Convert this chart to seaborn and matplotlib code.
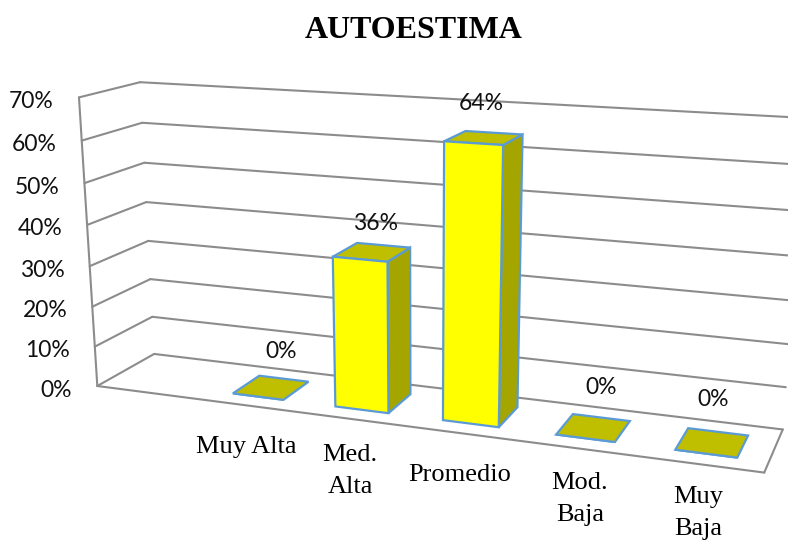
import numpy as np
import matplotlib
matplotlib.use("Agg")
import matplotlib.pyplot as plt
from matplotlib.transforms import Transform, Affine2D
from matplotlib.patches import Polygon
import seaborn as sns

# ---- data ----
categories = ["Muy Alta", "Med.\nAlta", "Promedio", "Mod.\nBaja", "Muy\nBaja"]
values = [0, 36, 64, 0, 0]
value_labels = ["0%", "36%", "64%", "0%", "0%"]
axis_ticks = [0, 10, 20, 30, 40, 50, 60, 70]
title = "AUTOESTIMA"

# ---- layout (pixels of the 788x541 picture) ----
W, H = 788, 541
X_L, X_R = -1.5, 4.5
Z0, Z1 = 0.24, 0.76
BAR_W = 0.5
VMAX = 70
# frame calibration: (x, value, depth) -> pixel
CALIB = [
    ((X_L, 0, 0), (97.5, 386)), ((X_L, VMAX, 0), (79, 97)),
    ((X_L, VMAX, 1), (140, 82.5)), ((X_L, 0, 1), (154, 354)),
    ((X_R, 0, 1), (783, 429)), ((X_R, 0, 0), (764, 473)),
    ((X_R, VMAX, 1), (805, 118)),
]
VALUE_LABEL_XY = [(281, 351), (376, 223), (481, 104), (601, 387), (713, 400)]
CAT_LABEL_XY = [(246, 447), (350, 471), (460, 475), (580, 499), (698, 513)]

# solve the projective camera
A, b = [], []
for (x, v, z), (u, w) in CALIB:
    A.append([x, v, z, 1, 0, 0, 0, 0, -u * x, -u * v, -u * z]); b.append(u)
    A.append([0, 0, 0, 0, x, v, z, 1, -w * x, -w * v, -w * z]); b.append(w)
P = np.append(np.linalg.lstsq(np.array(A, float), np.array(b, float), rcond=None)[0], 1).reshape(3, 4)


def project(x, v, z):
    h = P @ np.array([x, v, z, 1.0])
    return h[0] / h[2], h[1] / h[2]


PX = Affine2D().scale(1, -1).translate(0, H)


class FacePlane(Transform):
    """Category/value scale of the chart, seen in perspective at a fixed depth."""
    input_dims = output_dims = 2
    is_affine = False
    has_inverse = False

    def __init__(self, z):
        super().__init__()
        self.z = z

    def transform_non_affine(self, values):
        values = np.asarray(values, float)
        h = P @ np.c_[values[:, 0], values[:, 1], np.full(len(values), self.z), np.ones(len(values))].T
        return PX.transform((h[:2] / h[2]).T)


sns.set_theme(style="white")
plt.rcParams["font.family"] = ["Lato", "DejaVu Sans"]
SERIF = ["Liberation Serif", "DejaVu Serif"]

fig = plt.figure(figsize=(W / 100, H / 100), dpi=100, facecolor="white")
ax = fig.add_axes([0, 0, 1, 1])

GOLD_TOP, GOLD_SIDE, FRONT, EDGE, GRID = "#BFBF00", "#A5A500", "#FFFF00", "#5B9BD5", "#8C8C8C"
EDGE_LW = 1.6

sns.barplot(x=list(range(len(values))), y=values, color=FRONT, saturation=1, width=BAR_W,
            edgecolor=EDGE, linewidth=EDGE_LW, ax=ax, zorder=3)
ax.set_xlabel(""); ax.set_ylabel("")
ax.axis("off")
ax.set_autoscale_on(False)

front = FacePlane(Z0)
for rect in ax.patches:
    rect.set_transform(front)


def frame_line(p, q):
    xy = np.array([project(*p), project(*q)])
    ax.plot(xy[:, 0], xy[:, 1], color=GRID, lw=1.5, transform=PX, zorder=1, solid_capstyle="round")


for t in axis_ticks:
    frame_line((X_L, t, 0), (X_L, t, 1)) if t else None
    frame_line((X_L, t, 1), (X_R, t, 1))
    u, w = project(X_L, t, 0)
    ax.text(u - 25, w + 4, f"{t}%", ha="right", va="center", fontsize=16.5, color="#111111", transform=PX)
frame_line((X_L, 0, 0), (X_L, VMAX, 0))
frame_line((X_L, 0, 0), (X_L, 0, 1))
frame_line((X_L, 0, 0), (X_R, 0, 0))
frame_line((X_R, 0, 0), (X_R, 0, 1))

for i, v in enumerate(values):
    l, r = i - BAR_W / 2, i + BAR_W / 2
    top = [project(l, v, Z0), project(r, v, Z0), project(r, v, Z1), project(l, v, Z1)]
    side = [project(r, 0, Z0), project(r, v, Z0), project(r, v, Z1), project(r, 0, Z1)]
    if v:
        ax.add_patch(Polygon(side, closed=True, fc=GOLD_SIDE, ec=EDGE, lw=EDGE_LW, transform=PX, zorder=2))
    ax.add_patch(Polygon(top, closed=True, fc=GOLD_TOP, ec=EDGE, lw=EDGE_LW, transform=PX, zorder=2 if v else 4))

for lab, (u, w) in zip(value_labels, VALUE_LABEL_XY):
    ax.text(u, w, lab, ha="center", va="center", fontsize=16.5, color="#111111", transform=PX, zorder=5)
for lab, (u, w) in zip(categories, CAT_LABEL_XY):
    ax.text(u, w, lab, ha="center", va="center", fontsize=19, family=SERIF, color="black",
            linespacing=1.55, transform=PX, zorder=5)
ax.text(414, 31, title, ha="center", va="center", fontsize=23, fontweight="bold", family=SERIF,
        color="black", transform=PX, zorder=5)

fig.savefig("out.png", dpi=100)
